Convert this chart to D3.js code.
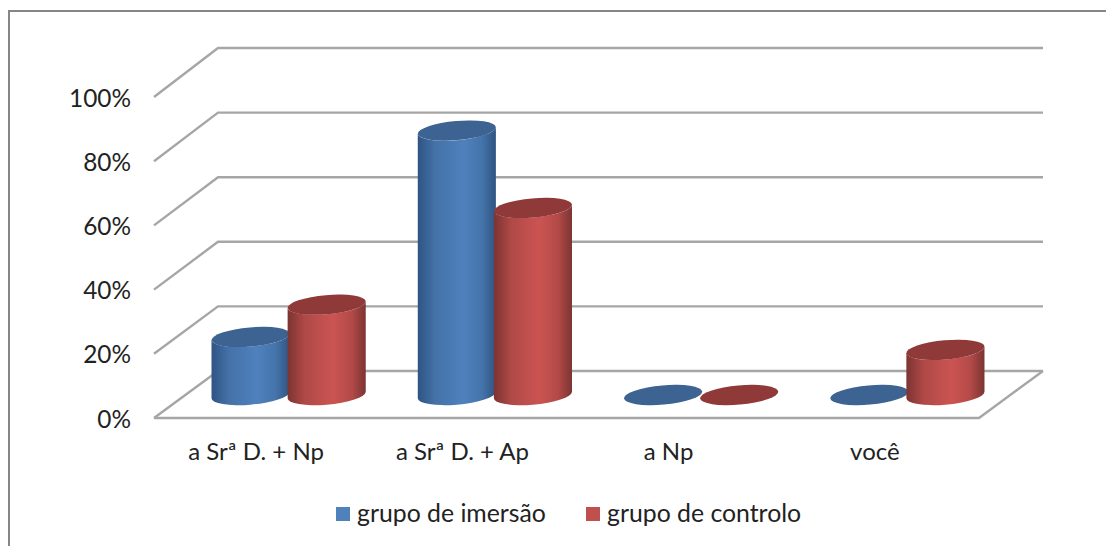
<!DOCTYPE html>
<html>
<head>
<meta charset="utf-8">
<script src="https://cdn.jsdelivr.net/npm/d3@7"></script>
<style>
    html, body { margin: 0; padding: 0; background: #fff; }
    svg { display: block; }
    text { font-family: Lato, "Open Sans", sans-serif; fill: #222; }
</style>
</head>
<body>
<script>
var categories = ["a Srª D. + Np", "a Srª D. + Ap", "a Np", "você"];
var seriesNames = ["grupo de imersão", "grupo de controlo"];
var imersao = [18, 82, 0, 0];
var controlo = [28, 58, 0, 14];
var yTicks = [0, 20, 40, 60, 80, 100];

var w = 1106;
var h = 546;

var palette = [
    {edge: "#2f5482", mid: "#4f81bd", top: "#3c6391", key: "#4f81bd"},
    {edge: "#7c3432", mid: "#cb5452", top: "#8f3a38", key: "#c0504d"}
];

var svg = d3.select("body").append("svg")
    .attr("width", w)
    .attr("height", h);

// outer frame, only left and top show
svg.append("path")
    .attr("d", "M9,546V11H1106")
    .attr("fill", "none")
    .attr("stroke", "#868686")
    .attr("stroke-width", 2);

// front and back planes of the 3d box, bars stand half way between them
var depthX = 64;
var xFront = d3.scaleLinear().domain([0, 1]).range([154, 979]);
var yFront = d3.scaleLinear().domain([0, 100]).range([418, 97]);
var yBack = d3.scaleLinear().domain([0, 100]).range([371, 48]);
var yMid = d3.scaleLinear().domain([0, 100]).range([395, 72.5]);

var x0 = d3.scaleBand().domain(categories).range([xFront(0) + depthX / 2, xFront(1) + depthX / 2]);
var x1 = d3.scaleBand().domain(seriesNames).range([0, x0.bandwidth()]).paddingOuter(0.355).paddingInner(0);
var xLabel = d3.scaleBand().domain(categories).range([xFront(0), xFront(1)]);

var grid = svg.append("g")
    .attr("fill", "none")
    .attr("stroke", "#a6a6a6")
    .attr("stroke-width", 2.4);

grid.selectAll("path.wall")
    .data(yTicks)
    .enter()
    .append("path")
    .attr("class", "wall")
    .attr("d", function (d) {
        return "M" + xFront(0) + "," + yFront(d) +
            "L" + (xFront(0) + depthX) + "," + yBack(d) +
            "H" + (xFront(1) + depthX);
    });

// floor edge
grid.append("path")
    .attr("d", "M" + xFront(0) + "," + yFront(0) + "H" + xFront(1) +
        "L" + (xFront(1) + depthX) + "," + yBack(0));

var defs = svg.append("defs");
palette.forEach(function (p, i) {
    var g = defs.append("linearGradient").attr("id", "cyl" + i);
    g.append("stop").attr("offset", "0%").attr("stop-color", p.edge);
    g.append("stop").attr("offset", "22%").attr("stop-color", d3.interpolateRgb(p.edge, p.mid)(0.65));
    g.append("stop").attr("offset", "58%").attr("stop-color", p.mid);
    g.append("stop").attr("offset", "82%").attr("stop-color", d3.interpolateRgb(p.edge, p.mid)(0.7));
    g.append("stop").attr("offset", "100%").attr("stop-color", p.edge);
});

// tilted ellipse used for the cylinder ends
var tiltDeg = -5;
var tilt = tiltDeg * Math.PI / 180;
var hx = x1.bandwidth() / 2 + 1;
var ry = 9.6;
var rx = Math.sqrt((hx * hx - ry * ry * Math.sin(tilt) * Math.sin(tilt)) / (Math.cos(tilt) * Math.cos(tilt)));
var tangentY = (rx * rx - ry * ry) * Math.sin(tilt) * Math.cos(tilt) / hx;

function bodyPath(cx, yTop, yBase) {
    return "M" + (cx - hx) + "," + (yTop - tangentY) +
        "V" + (yBase - tangentY) +
        "A" + rx + "," + ry + " " + tiltDeg + " 0 0 " + (cx + hx) + "," + (yBase + tangentY) +
        "V" + (yTop + tangentY) +
        "A" + rx + "," + ry + " " + tiltDeg + " 0 1 " + (cx - hx) + "," + (yTop - tangentY) + "Z";
}

var allSeries = [imersao, controlo];
var groups = svg.selectAll("g.cat")
    .data(categories)
    .enter()
    .append("g")
    .attr("class", "cat");

groups.each(function (cat, c) {
    var g = d3.select(this);
    seriesNames.forEach(function (name, s) {
        var v = allSeries[s][c];
        var cx = x0(cat) + x1(name) + x1.bandwidth() / 2 - 0.5;
        if (v > 0) {
            g.append("path")
                .attr("d", bodyPath(cx, yMid(v), yMid(0)))
                .attr("fill", "url(#cyl" + s + ")");
        }
        g.append("ellipse")
            .attr("rx", rx)
            .attr("ry", ry)
            .attr("transform", "translate(" + cx + "," + yMid(v) + ") rotate(" + tiltDeg + ")")
            .attr("fill", palette[s].top);
    });
});

// value labels
svg.append("g").selectAll("text")
    .data(yTicks)
    .enter()
    .append("text")
    .attr("x", 131)
    .attr("y", function (d) { return yFront(d) + 9.5; })
    .attr("text-anchor", "end")
    .style("font-size", "24.4px")
    .text(function (d) { return d + "%"; });

svg.append("g").selectAll("text")
    .data(categories)
    .enter()
    .append("text")
    .attr("x", function (d) { return xLabel(d) + xLabel.bandwidth() / 2 - 1; })
    .attr("y", 460)
    .attr("text-anchor", "middle")
    .style("font-size", "24px")
    .text(function (d) { return d; });

// legend
var legendX = d3.scaleOrdinal().domain(seriesNames).range([336, 586]);
var legend = svg.selectAll("g.legend")
    .data(seriesNames)
    .enter()
    .append("g")
    .attr("class", "legend")
    .attr("transform", function (d) { return "translate(" + legendX(d) + ",507)"; });

legend.append("rect")
    .attr("width", 14)
    .attr("height", 14)
    .attr("fill", function (d, i) { return palette[i].key; });

legend.append("text")
    .attr("x", 21)
    .attr("y", 15)
    .style("font-size", "24.8px")
    .text(function (d) { return d; });
</script>
</body>
</html>
